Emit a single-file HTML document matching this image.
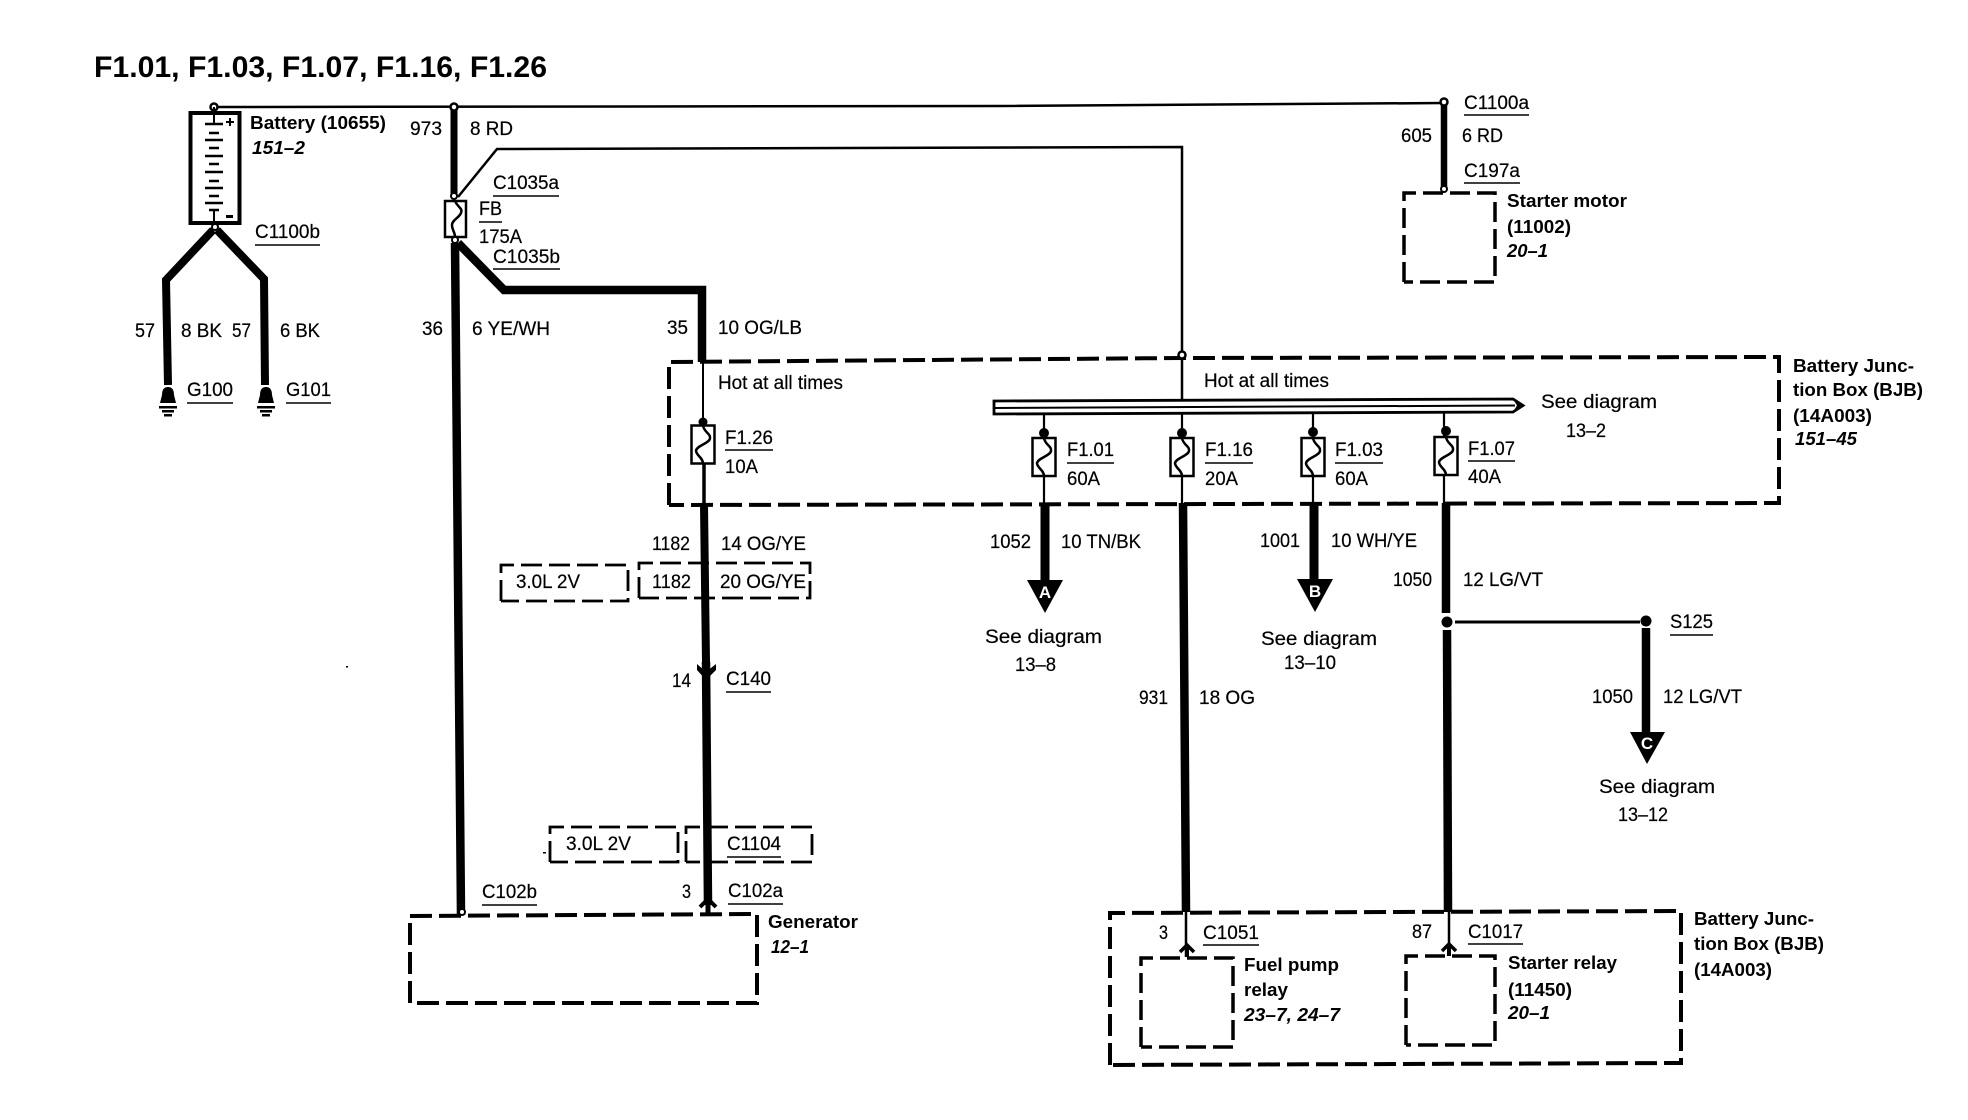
<!DOCTYPE html>
<html><head><meta charset="utf-8"><style>
html,body{margin:0;padding:0;background:#fff}
svg{display:block}
text{font-family:"Liberation Sans",sans-serif;font-size:19px;fill:#000;stroke:#000;stroke-width:.2}
.b{font-weight:bold;font-size:18px;stroke:none}
.i{font-weight:bold;font-style:italic;font-size:18px;stroke:none}
.l{font-weight:bold;font-size:17px;fill:#fff;stroke:none}
.d{fill:none;stroke:#000;stroke-width:4;stroke-dasharray:22 7}
.e{fill:none;stroke:#000;stroke-width:3.5;stroke-dasharray:20 7}
.s{fill:none;stroke:#000;stroke-width:2.8;stroke-dasharray:21 7}
.w{fill:none;stroke:#000;stroke-linejoin:miter}
.u{stroke:#000;stroke-width:1.5}
</style></head><body>
<svg width="1968" height="1120" viewBox="0 0 1968 1120" xmlns="http://www.w3.org/2000/svg">
<defs>
<g id="f"><rect x="-11.5" y="-19" width="23" height="38" fill="#fff" stroke="#000" stroke-width="2.5"/>
<path d="M0,-19 C1,-12 8,-11 7,-6 C6,-1 -6,1 -7,6 C-7,11 0,13 0,19" fill="none" stroke="#000" stroke-width="2.5"/></g>
<g id="g"><path d="M-6,7 Q-6,-1 0,-1 Q6,-1 6,7 L8,15 L-8,15 L-6,7Z" fill="#000"/>
<rect x="-9" y="18" width="18" height="2.5"/><rect x="-6" y="22" width="12" height="2.5"/><rect x="-4" y="26" width="8" height="2.5"/></g>
</defs>
<rect width="1968" height="1120" fill="#fff"/>

<!-- title -->
<text x="94" y="77" style="font-size:30px;font-weight:bold;stroke:none" textLength="453" lengthAdjust="spacingAndGlyphs">F1.01, F1.03, F1.07, F1.16, F1.26</text>

<!-- top bus -->
<path class="w" stroke-width="2.5" d="M214,107 L1000,106 L1444,103"/>
<path class="w" stroke-width="7" d="M454,107 V198"/>
<path class="w" stroke-width="6.5" d="M1444,103 V190"/>
<circle cx="214" cy="107" r="3.5" fill="#fff" stroke="#000" stroke-width="2.5"/>
<circle cx="454" cy="107" r="3.5" fill="#fff" stroke="#000" stroke-width="2.5"/>
<circle cx="1444" cy="102" r="3.5" fill="#fff" stroke="#000" stroke-width="2.5"/>
<circle cx="1444" cy="189" r="3" fill="#fff" stroke="#000" stroke-width="2"/>

<!-- battery -->
<rect x="190.500" y="113" width="49" height="110" fill="#fff" stroke="#000" stroke-width="4"/>
<path stroke="#000" stroke-width="2" d="M214,107 V124 M214,209 V226"/>
<path stroke="#000" stroke-width="2.500" fill="none" d="M205,124H223 M209,133H219 M205,140H223 M209,148H219 M205,156H223 M209,164H219 M205,172H223 M209,181H219 M205,188H223 M209,196H219 M205,203H223 M209,210H219"/>
<path stroke="#000" stroke-width="2" d="M226,122H234 M230,118V126"/>
<rect x="226" y="215" width="7" height="3"/>
<circle cx="215" cy="227" r="3" fill="#fff" stroke="#000" stroke-width="2"/>
<path class="w" stroke-width="8" d="M213,230 L166,280 L168,385"/>
<path class="w" stroke-width="8" d="M217,230 L264,279 L265,385"/>
<use href="#g" x="168" y="388"/><use href="#g" x="266" y="388"/>

<!-- FB fuse and branches -->
<path class="w" stroke-width="2.500" d="M458,197 L497,149 L1182,147 V400"/>
<circle cx="454" cy="196" r="3" fill="#fff" stroke="#000" stroke-width="2"/>
<rect x="445" y="201" width="21" height="36" fill="#fff" stroke="#000" stroke-width="2.500"/>
<path d="M455,201 C458,208 463,208 461,213 C459,218 452,220 452,225 C452,230 455,232 455,237" fill="none" stroke="#000" stroke-width="2.500"/>
<circle cx="455" cy="240" r="3" fill="#fff" stroke="#000" stroke-width="2"/>
<path class="w" stroke-width="8.500" d="M455,243 L461,915"/>
<path class="w" stroke-width="8.500" d="M458,243 L504,290 H702 V362"/>
<circle cx="462" cy="912" r="3" fill="#fff" stroke="#000" stroke-width="2"/>

<!-- main BJB box -->
<path class="d" d="M669,505 V362 L1182,358 L1779,357 V503 L669,505"/>
<circle cx="1182" cy="355" r="3.500" fill="#fff" stroke="#000" stroke-width="2.500"/>

<!-- F1.26 -->
<path class="w" stroke-width="2" d="M703,362 V422"/>
<path class="w" stroke-width="3.500" d="M704,463 V505"/>
<circle cx="703" cy="422" r="4.500"/>
<use href="#f" x="703" y="444.500"/>
<path class="w" stroke-width="8" d="M704,505 L706,662"/>
<path class="w" stroke-width="8.500" d="M706,662 L708,905"/>
<path d="M697,664 L706,672 L716,664 L716,670 L706,680 L697,670Z"/>
<path class="w" stroke-width="4" d="M700,907 L708,899 L716,907"/>
<path class="w" stroke-width="5" d="M708,900 V915"/>

<!-- Bus -->
<path fill="#fff" stroke="#000" stroke-width="2.800" d="M994,401 L1513,399 L1523,405.500 L1513,412 L994,414Z"/>
<path stroke="#000" stroke-width="2" d="M994,408 L1515,405.500"/>
<path d="M1513,399 L1525,405.500 L1513,412 L1517,405.500Z"/>

<!-- F1.xx fuses -->
<path class="w" stroke-width="2.200" d="M1044,413V503 M1182,413V503 M1313,413V503 M1444,413V503"/>
<circle cx="1044" cy="433" r="5"/><circle cx="1182" cy="433" r="5"/><circle cx="1313" cy="432" r="5"/><circle cx="1446" cy="431" r="5"/>
<use href="#f" x="1044" y="457"/><use href="#f" x="1182" y="457"/><use href="#f" x="1313" y="457"/><use href="#f" x="1446" y="456"/>

<!-- output wires -->
<path class="w" stroke-width="9" d="M1045,503 V585"/>
<path class="w" stroke-width="8.500" d="M1183,503 L1186,912"/>
<path class="w" stroke-width="9" d="M1314,503 V585"/>
<path class="w" stroke-width="8.500" d="M1446,503 V613"/>
<path class="w" stroke-width="8.500" d="M1447,630 L1448,912"/>
<circle cx="1447" cy="622" r="5.500"/>
<path class="w" stroke-width="3" d="M1455,622 H1640"/>
<circle cx="1646" cy="621" r="5.500"/>
<path class="w" stroke-width="8.500" d="M1646,628 V736"/>
<path d="M1027,580 H1063 L1045,613Z"/><path d="M1297,579 H1333 L1315,612Z"/><path d="M1630,732 H1665 L1647,764Z"/>
<text class="l" x="1045" y="598" text-anchor="middle">A</text>
<text class="l" x="1315" y="597" text-anchor="middle">B</text>
<text class="l" x="1647" y="749" text-anchor="middle">C</text>

<!-- bottom BJB -->
<path class="d" d="M1110,1065 V913 L1681,911 V1063 L1110,1065"/>
<path class="w" stroke-width="2.500" d="M1186,912V957 M1449,912V956"/>
<path class="w" stroke-width="3.500" d="M1180,952 L1187,945 L1194,952 M1442,951 L1449,944 L1456,951"/>
<path class="w" stroke-width="4" d="M1187,945 V957 M1449,944 V956"/>
<path class="e" d="M1141,1047 V958 H1233 V1047 H1141"/>
<path class="e" d="M1406,1045 V956 H1495 V1045 H1406"/>

<!-- other dashed boxes -->
<path class="e" d="M1404,282 V193 H1495 V282 H1404"/>
<path class="d" d="M410,1003 V916 L757,914 V1003 H410"/>
<path class="s" d="M501,601 V565 H628 V601 H501"/>
<path class="s" d="M639,598 V563 H810 V598 H639"/>
<path class="s" d="M550,862 V827 H678 V862 H550"/>
<path class="s" d="M686,862 V827 H812 V862 H686"/>
<rect x="543" y="852" width="3" height="1.500"/><rect x="346" y="666" width="2" height="1.500"/>

<!-- underlines -->
<g class="u">
<path d="M493,196H559M479,222H502M493,269H560M255,245H320M187,403H233M286,403H331M1464,115H1529M1464,183H1520M725,450H773M726,692H771M727,857H781M482,905H537M728,904H783M1067,463H1114M1205,463H1253M1335,463H1383M1468,461H1515M1670,635H1713M1203,945H1259M1468,944H1523"/>
</g>

<!-- labels -->
<text class="b" x="250" y="129" textLength="136" lengthAdjust="spacingAndGlyphs">Battery (10655)</text>
<text class="i" x="252" y="154" textLength="53" lengthAdjust="spacingAndGlyphs">151–2</text>
<text x="410" y="135" textLength="32" lengthAdjust="spacingAndGlyphs">973</text>
<text x="470" y="135" textLength="43" lengthAdjust="spacingAndGlyphs">8 RD</text>
<text x="493" y="189" textLength="66" lengthAdjust="spacingAndGlyphs">C1035a</text>
<text x="479" y="215" textLength="23" lengthAdjust="spacingAndGlyphs">FB</text>
<text x="479" y="243" textLength="43" lengthAdjust="spacingAndGlyphs">175A</text>
<text x="493" y="263" textLength="67" lengthAdjust="spacingAndGlyphs">C1035b</text>
<text x="255" y="238" textLength="65" lengthAdjust="spacingAndGlyphs">C1100b</text>
<text x="135" y="337" textLength="20" lengthAdjust="spacingAndGlyphs">57</text>
<text x="181" y="337" textLength="41" lengthAdjust="spacingAndGlyphs">8 BK</text>
<text x="232" y="337" textLength="19" lengthAdjust="spacingAndGlyphs">57</text>
<text x="280" y="337" textLength="40" lengthAdjust="spacingAndGlyphs">6 BK</text>
<text x="422" y="335" textLength="21" lengthAdjust="spacingAndGlyphs">36</text>
<text x="472" y="335" textLength="78" lengthAdjust="spacingAndGlyphs">6 YE/WH</text>
<text x="667" y="334" textLength="21" lengthAdjust="spacingAndGlyphs">35</text>
<text x="718" y="334" textLength="84" lengthAdjust="spacingAndGlyphs">10 OG/LB</text>
<text x="187" y="396" textLength="46" lengthAdjust="spacingAndGlyphs">G100</text>
<text x="286" y="396" textLength="45" lengthAdjust="spacingAndGlyphs">G101</text>

<text x="718" y="389" textLength="125" lengthAdjust="spacingAndGlyphs">Hot at all times</text>
<text x="1204" y="387" textLength="125" lengthAdjust="spacingAndGlyphs">Hot at all times</text>
<text x="725" y="444" textLength="48" lengthAdjust="spacingAndGlyphs">F1.26</text>
<text x="725" y="473" textLength="33" lengthAdjust="spacingAndGlyphs">10A</text>
<text x="652" y="550" textLength="38" lengthAdjust="spacingAndGlyphs">1182</text>
<text x="721" y="550" textLength="85" lengthAdjust="spacingAndGlyphs">14 OG/YE</text>
<text x="516" y="588" textLength="64" lengthAdjust="spacingAndGlyphs">3.0L 2V</text>
<text x="652" y="588" textLength="39" lengthAdjust="spacingAndGlyphs">1182</text>
<text x="720" y="588" textLength="86" lengthAdjust="spacingAndGlyphs">20 OG/YE</text>
<text x="672" y="687" textLength="19" lengthAdjust="spacingAndGlyphs">14</text>
<text x="726" y="685" textLength="45" lengthAdjust="spacingAndGlyphs">C140</text>
<text x="566" y="850" textLength="65" lengthAdjust="spacingAndGlyphs">3.0L 2V</text>
<text x="727" y="850" textLength="54" lengthAdjust="spacingAndGlyphs">C1104</text>
<text x="482" y="898" textLength="55" lengthAdjust="spacingAndGlyphs">C102b</text>
<text x="682" y="898" textLength="9" lengthAdjust="spacingAndGlyphs">3</text>
<text x="728" y="897" textLength="55" lengthAdjust="spacingAndGlyphs">C102a</text>
<text class="b" x="768" y="928" textLength="90" lengthAdjust="spacingAndGlyphs">Generator</text>
<text class="i" x="771" y="953" textLength="38" lengthAdjust="spacingAndGlyphs">12–1</text>

<text x="1464" y="109" textLength="65" lengthAdjust="spacingAndGlyphs">C1100a</text>
<text x="1401" y="142" textLength="31" lengthAdjust="spacingAndGlyphs">605</text>
<text x="1462" y="142" textLength="41" lengthAdjust="spacingAndGlyphs">6 RD</text>
<text x="1464" y="177" textLength="56" lengthAdjust="spacingAndGlyphs">C197a</text>
<text class="b" x="1507" y="207" textLength="120" lengthAdjust="spacingAndGlyphs">Starter motor</text>
<text class="b" x="1507" y="233" textLength="64" lengthAdjust="spacingAndGlyphs">(11002)</text>
<text class="i" x="1507" y="257" textLength="41" lengthAdjust="spacingAndGlyphs">20–1</text>
<text class="b" x="1793" y="372" textLength="121" lengthAdjust="spacingAndGlyphs">Battery Junc-</text>
<text class="b" x="1793" y="396" textLength="130" lengthAdjust="spacingAndGlyphs">tion Box (BJB)</text>
<text class="b" x="1793" y="422" textLength="79" lengthAdjust="spacingAndGlyphs">(14A003)</text>
<text class="i" x="1795" y="445" textLength="62" lengthAdjust="spacingAndGlyphs">151–45</text>
<text x="1541" y="408" textLength="116" lengthAdjust="spacingAndGlyphs">See diagram</text>
<text x="1566" y="437" textLength="40" lengthAdjust="spacingAndGlyphs">13–2</text>

<text x="1067" y="456" textLength="47" lengthAdjust="spacingAndGlyphs">F1.01</text>
<text x="1067" y="485" textLength="33" lengthAdjust="spacingAndGlyphs">60A</text>
<text x="1205" y="456" textLength="48" lengthAdjust="spacingAndGlyphs">F1.16</text>
<text x="1205" y="485" textLength="33" lengthAdjust="spacingAndGlyphs">20A</text>
<text x="1335" y="456" textLength="48" lengthAdjust="spacingAndGlyphs">F1.03</text>
<text x="1335" y="485" textLength="33" lengthAdjust="spacingAndGlyphs">60A</text>
<text x="1468" y="455" textLength="47" lengthAdjust="spacingAndGlyphs">F1.07</text>
<text x="1468" y="483" textLength="33" lengthAdjust="spacingAndGlyphs">40A</text>

<text x="990" y="548" textLength="41" lengthAdjust="spacingAndGlyphs">1052</text>
<text x="1061" y="548" textLength="80" lengthAdjust="spacingAndGlyphs">10 TN/BK</text>
<text x="985" y="643" textLength="117" lengthAdjust="spacingAndGlyphs">See diagram</text>
<text x="1015" y="671" textLength="41" lengthAdjust="spacingAndGlyphs">13–8</text>
<text x="1139" y="704" textLength="29" lengthAdjust="spacingAndGlyphs">931</text>
<text x="1199" y="704" textLength="56" lengthAdjust="spacingAndGlyphs">18 OG</text>
<text x="1260" y="547" textLength="40" lengthAdjust="spacingAndGlyphs">1001</text>
<text x="1331" y="547" textLength="86" lengthAdjust="spacingAndGlyphs">10 WH/YE</text>
<text x="1261" y="645" textLength="116" lengthAdjust="spacingAndGlyphs">See diagram</text>
<text x="1284" y="669" textLength="52" lengthAdjust="spacingAndGlyphs">13–10</text>
<text x="1393" y="586" textLength="39" lengthAdjust="spacingAndGlyphs">1050</text>
<text x="1463" y="586" textLength="80" lengthAdjust="spacingAndGlyphs">12 LG/VT</text>
<text x="1670" y="628" textLength="43" lengthAdjust="spacingAndGlyphs">S125</text>
<text x="1592" y="703" textLength="41" lengthAdjust="spacingAndGlyphs">1050</text>
<text x="1663" y="703" textLength="79" lengthAdjust="spacingAndGlyphs">12 LG/VT</text>
<text x="1599" y="793" textLength="116" lengthAdjust="spacingAndGlyphs">See diagram</text>
<text x="1618" y="821" textLength="50" lengthAdjust="spacingAndGlyphs">13–12</text>

<text x="1159" y="939" textLength="9" lengthAdjust="spacingAndGlyphs">3</text>
<text x="1203" y="939" textLength="56" lengthAdjust="spacingAndGlyphs">C1051</text>
<text x="1412" y="938" textLength="20" lengthAdjust="spacingAndGlyphs">87</text>
<text x="1468" y="938" textLength="55" lengthAdjust="spacingAndGlyphs">C1017</text>
<text class="b" x="1244" y="971" textLength="95" lengthAdjust="spacingAndGlyphs">Fuel pump</text>
<text class="b" x="1244" y="996" textLength="44" lengthAdjust="spacingAndGlyphs">relay</text>
<text class="i" x="1244" y="1021" textLength="96" lengthAdjust="spacingAndGlyphs">23–7, 24–7</text>
<text class="b" x="1508" y="969" textLength="109" lengthAdjust="spacingAndGlyphs">Starter relay</text>
<text class="b" x="1508" y="996" textLength="64" lengthAdjust="spacingAndGlyphs">(11450)</text>
<text class="i" x="1508" y="1019" textLength="42" lengthAdjust="spacingAndGlyphs">20–1</text>
<text class="b" x="1694" y="925" textLength="120" lengthAdjust="spacingAndGlyphs">Battery Junc-</text>
<text class="b" x="1694" y="950" textLength="130" lengthAdjust="spacingAndGlyphs">tion Box (BJB)</text>
<text class="b" x="1694" y="976" textLength="78" lengthAdjust="spacingAndGlyphs">(14A003)</text>
</svg>
</body></html>
